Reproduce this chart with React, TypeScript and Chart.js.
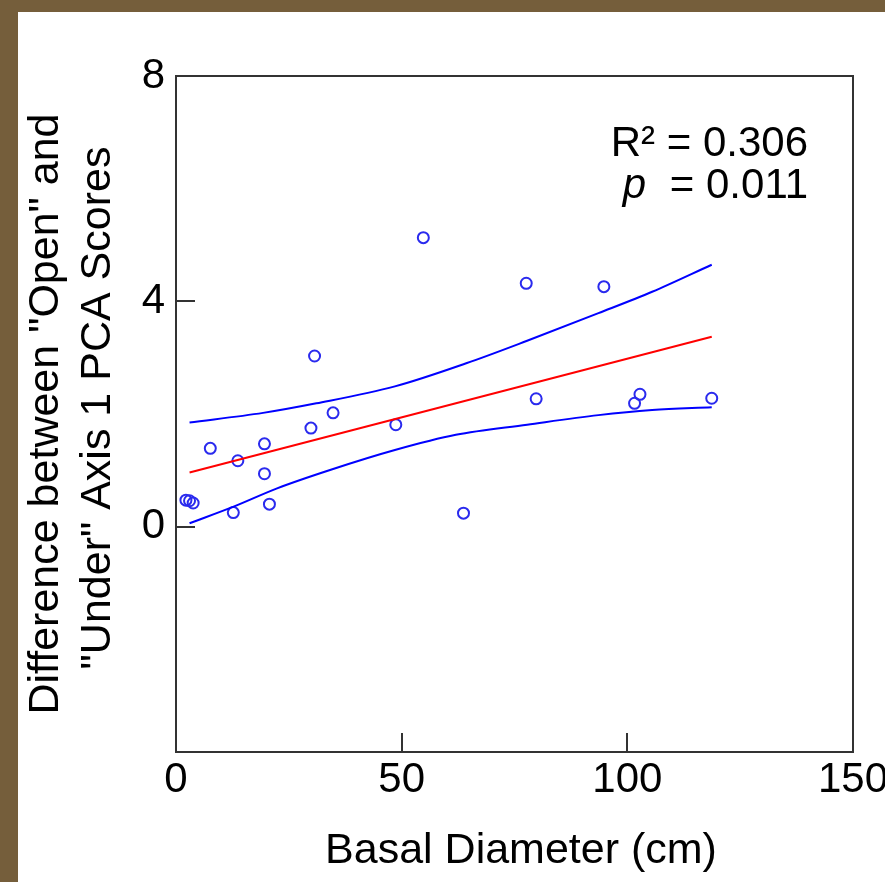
import React, { useEffect, useRef } from 'react';
import { Chart, registerables } from 'chart.js';

Chart.register(...registerables);

// Observed data (basal diameter in cm vs. score difference)
const diameterCm = [2.2, 3.0, 3.8, 7.6, 12.7, 13.7, 19.6, 19.6, 20.7, 29.9, 30.7, 34.8, 48.7, 54.8, 63.7, 77.6, 79.8, 94.8, 101.6, 102.8, 118.7];
const scoreDiff = [0.47, 0.46, 0.42, 1.39, 0.25, 1.17, 1.47, 0.94, 0.40, 1.75, 3.03, 2.02, 1.81, 5.13, 0.24, 4.32, 2.27, 4.26, 2.19, 2.35, 2.28];

// Regression line
const fitX = [3.0, 118.7];
const fitY = [0.96, 3.37];

// Confidence band
const upperX = [3.0, 19.3, 31.1, 48.5, 64.3, 77.8, 93.6, 105.5, 118.7];
const upperY = [1.85, 2.02, 2.19, 2.49, 2.9, 3.3, 3.79, 4.17, 4.65];
const lowerX = [3.0, 12.9, 22.4, 34.3, 48.5, 62.0, 77.8, 93.6, 105.5, 118.7];
const lowerY = [0.06, 0.36, 0.68, 1.01, 1.36, 1.63, 1.81, 1.98, 2.07, 2.12];

const xTicks = [0, 50, 100, 150];
const yTicks = [-4, 0, 4, 8];
const hiddenYTickLabels = [-4];

const xTitle = 'Basal Diameter (cm)';
const yTitleLines = ['Difference between "Open" and', '"Under" Axis 1 PCA Scores'];
const r2Text = 'R\u00B2 = 0.306';
const pValueText = ' = 0.011';

const FONT = '"Liberation Sans", Arial, Helvetica, sans-serif';
const BLUE = '#0000ff';
const RED = '#ff0000';
const AXIS = '#333333';

const zip = (xs: number[], ys: number[]) => xs.map((x, i) => ({ x, y: ys[i] }));

const decorPlugin = {
  id: 'decor',
  afterDraw(chart: any) {
    const { ctx, chartArea } = chart;
    const { left, right, top, bottom } = chartArea;
    const xs = chart.scales.x;
    const ys = chart.scales.y;
    ctx.save();
    // frame
    ctx.strokeStyle = AXIS;
    ctx.lineWidth = 2;
    ctx.strokeRect(left, top, right - left, bottom - top);
    // inward ticks
    ctx.beginPath();
    xs.ticks.forEach((t: any) => {
      if (t.value === xs.min || t.value === xs.max) return;
      const px = Math.round(xs.getPixelForValue(t.value));
      ctx.moveTo(px, bottom);
      ctx.lineTo(px, bottom - 19);
    });
    ys.ticks.forEach((t: any) => {
      if (t.value === ys.min || t.value === ys.max) return;
      const py = Math.round(ys.getPixelForValue(t.value));
      ctx.moveTo(left, py);
      ctx.lineTo(left + 19, py);
    });
    ctx.stroke();

    ctx.fillStyle = '#000';
    // x title
    ctx.font = `43px ${FONT}`;
    ctx.textAlign = 'center';
    ctx.textBaseline = 'alphabetic';
    ctx.fillText(xTitle, 503, 851);

    // y title (rotated)
    ctx.save();
    ctx.translate(40, 402);
    ctx.rotate(-Math.PI / 2);
    ctx.fillText(yTitleLines[0], 0, 0);
    ctx.restore();
    ctx.save();
    ctx.translate(92, 396);
    ctx.rotate(-Math.PI / 2);
    ctx.fillText(yTitleLines[1], 0, 0);
    ctx.restore();

    // annotation
    ctx.font = `42px ${FONT}`;
    ctx.textAlign = 'right';
    ctx.fillText(r2Text, 790, 144);
    const restW = ctx.measureText(pValueText).width;
    ctx.fillText(pValueText, 790, 186);
    ctx.font = `italic 42px ${FONT}`;
    ctx.fillText('p', 790 - restW - 12, 186);
    ctx.restore();
  },
};

export default function App() {
  const ref = useRef<HTMLCanvasElement>(null);

  useEffect(() => {
    document.body.style.margin = '0';
    const canvas = ref.current!;
    const chart = new Chart(canvas, {
      type: 'scatter',
      data: {
        datasets: [
          {
            label: 'Upper band',
            data: zip(upperX, upperY),
            showLine: true,
            borderColor: BLUE,
            borderWidth: 2,
            pointRadius: 0,
            fill: false,
            cubicInterpolationMode: 'monotone',
          },
          {
            label: 'Lower band',
            data: zip(lowerX, lowerY),
            showLine: true,
            borderColor: BLUE,
            borderWidth: 2,
            pointRadius: 0,
            fill: false,
            cubicInterpolationMode: 'monotone',
          },
          {
            label: 'Fit',
            data: zip(fitX, fitY),
            showLine: true,
            borderColor: RED,
            borderWidth: 2,
            pointRadius: 0,
            fill: false,
          },
          {
            label: 'Observations',
            data: zip(diameterCm, scoreDiff),
            showLine: false,
            pointStyle: 'circle',
            pointRadius: 5.5,
            pointBorderWidth: 2,
            pointBorderColor: '#2a2aee',
            pointBackgroundColor: 'rgba(255,255,255,0)',
          },
        ],
      },
      options: {
        animation: false,
        responsive: false,
        maintainAspectRatio: false,
        layout: { padding: { top: 64, right: 32, left: 0, bottom: 0 } },
        plugins: {
          legend: { display: false },
          tooltip: { enabled: false },
        },
        scales: {
          x: {
            type: 'linear',
            min: 0,
            max: 150,
            grid: { display: false, drawTicks: false, tickLength: 0 },
            border: { display: false },
            afterBuildTicks: (s: any) => {
              s.ticks = xTicks.map((v) => ({ value: v }));
            },
            afterFit: (s: any) => {
              s.height = 130;
              s.paddingLeft = 0;
              s.paddingRight = 0;
            },
            ticks: {
              color: '#000',
              padding: 3,
              maxRotation: 0,
              autoSkip: false,
              font: { family: FONT, size: 42 },
              callback: (v: any) => String(v),
            },
          },
          y: {
            type: 'linear',
            min: -4,
            max: 8,
            grid: { display: false, drawTicks: false, tickLength: 0 },
            border: { display: false },
            afterBuildTicks: (s: any) => {
              s.ticks = yTicks.map((v) => ({ value: v }));
            },
            afterFit: (s: any) => {
              s.width = 158;
              s.paddingTop = 0;
              s.paddingBottom = 0;
            },
            ticks: {
              color: '#000',
              padding: 11,
              autoSkip: false,
              font: { family: FONT, size: 42 },
              callback: (v: any) => (hiddenYTickLabels.includes(Number(v)) ? '' : String(v)),
            },
          },
        },
      },
      plugins: [decorPlugin],
    });
    return () => chart.destroy();
  }, []);

  return (
    <div
      style={{
        position: 'fixed',
        left: 0,
        top: 0,
        width: 885,
        height: 882,
        background: '#755e3b',
        overflow: 'hidden',
      }}
    >
      <canvas
        ref={ref}
        width={867}
        height={870}
        style={{ position: 'absolute', left: 18, top: 12, width: 867, height: 870, background: '#ffffff' }}
      />
    </div>
  );
}
